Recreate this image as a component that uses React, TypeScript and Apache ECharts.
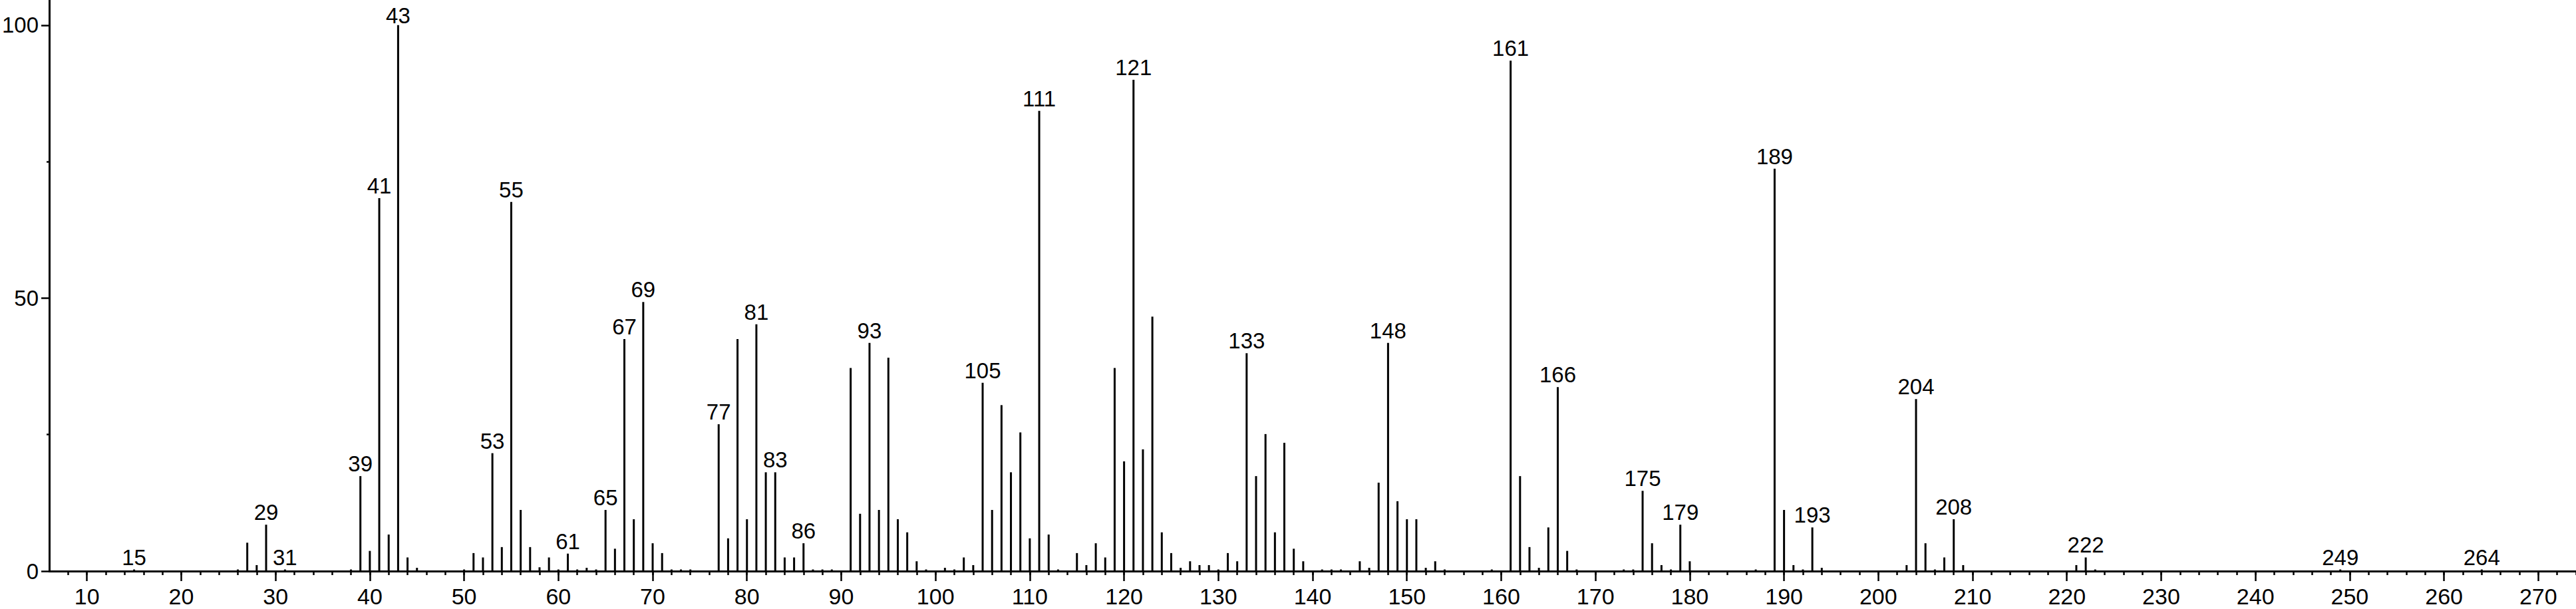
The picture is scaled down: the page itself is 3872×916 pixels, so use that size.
import React, { useEffect, useRef } from "react";
import * as echarts from "echarts";

// m/z values and relative intensities
const mzValues: number[] = [
  15, 26, 27, 28, 29, 31, 38, 39, 40, 41, 42, 43, 44, 45, 50,
  51, 52, 53, 54, 55, 56, 57, 58, 59, 60, 61, 62, 63, 64, 65, 66, 67, 68, 69, 70, 71,
  72, 73, 74, 77, 78, 79, 80, 81, 82, 83, 84, 85, 86, 87, 88, 89,
  91, 92, 93, 94, 95, 96, 97, 98, 99, 101, 102, 103, 104, 105, 106, 107, 108, 109, 110,
  111, 112, 113, 115, 116, 117, 118, 119, 120, 121, 122, 123, 124, 125, 126, 127, 128, 129, 130,
  131, 132, 133, 134, 135, 136, 137, 138, 139, 141, 142, 143, 145, 146, 147, 148, 149, 150,
  151, 152, 153, 154, 159, 161, 162, 163, 164, 165, 166, 167, 168, 173, 174, 175, 176, 177, 178,
  179, 180, 187, 189, 190, 191, 192, 193, 194, 203, 204, 205, 206, 207, 208, 209, 221, 222, 223,
  249, 264,
];
const intensities: number[] = [
  0.3, 0.3, 5.2, 1.1, 8.5, 0.3, 0.3, 17.4, 3.7, 68.3, 6.7, 100, 2.5, 0.6, 0.3,
  3.3, 2.5, 21.6, 4.4, 67.6, 11.2, 4.4, 0.7, 2.5, 0.3, 3.2, 0.3, 0.6, 0.3, 11.2, 4.1, 42.5, 9.5, 49.3, 5.1, 3.3,
  0.3, 0.3, 0.3, 26.9, 6.0, 42.5, 9.5, 45.2, 18.1, 18.1, 2.5, 2.5, 5.1, 0.3, 0.3, 0.3,
  37.2, 10.5, 41.8, 11.2, 39.1, 9.5, 7.1, 1.8, 0.3, 0.6, 0.3, 2.5, 1.1, 34.5, 11.2, 30.4, 18.1, 25.4, 6.0,
  84.3, 6.7, 0.3, 3.3, 1.1, 5.1, 2.5, 37.2, 20.1, 90.0, 22.3, 46.6, 7.1, 3.3, 0.6, 1.8, 1.1, 1.1, 0.3,
  3.3, 1.8, 39.9, 17.4, 25.1, 7.1, 23.5, 4.1, 1.8, 0.3, 0.3, 0.3, 1.8, 0.6, 16.2, 41.8, 12.8, 9.5,
  9.5, 0.6, 1.8, 0.3, 0.3, 93.5, 17.4, 4.4, 0.6, 8.0, 33.7, 3.7, 0.3, 0.3, 0.3, 14.7, 5.1, 1.1, 0.3,
  8.5, 1.8, 0.3, 73.7, 11.2, 1.1, 0.3, 8.0, 0.6, 1.1, 31.5, 5.1, 0.3, 2.5, 9.5, 1.1, 1.1, 2.5, 0.3,
  0.3, 0.3,
];
// peaks that carry an m/z annotation
const labelledPeaks: number[] = [
  15, 29, 31, 39, 41, 43, 53, 55, 61, 65, 67, 69, 77, 81, 83, 86, 93, 105, 111, 121,
  133, 148, 161, 166, 175, 179, 189, 193, 204, 208, 222, 249, 264,
];
const xTickLabels: number[] = [
  10, 20, 30, 40, 50, 60, 70, 80, 90, 100, 110, 120, 130, 140, 150, 160, 170, 180, 190,
  200, 210, 220, 230, 240, 250, 260, 270,
];
const xMinorTicks: number[] = Array.from({ length: 134 }, (_, i) => 8 + i * 2);
const yTickLabels: number[] = [0, 50, 100];
const yMinorTicks: number[] = [25, 75];

const FONT = "'Liberation Sans', Arial, Helvetica, sans-serif";

export default function App() {
  const ref = useRef<HTMLDivElement>(null);
  useEffect(() => {
    document.body.style.margin = "0";
    document.body.style.overflow = "hidden";
    if (!ref.current) return;
    const chart = echarts.init(ref.current, undefined, { renderer: "svg" });
    const topValue = Math.max(...intensities);
    const data = mzValues.map((mz, i) => {
      const item: any = { value: [mz, intensities[i]] };
      if (labelledPeaks.includes(mz)) {
        item.label = intensities[i] === topValue ? { show: true, distance: -2 } : { show: true };
      }
      return item;
    });
    chart.setOption({
      animation: false,
      backgroundColor: "#ffffff",
      grid: { left: 69, right: 0, top: 0, bottom: 57, containLabel: false },
      xAxis: [
        {
          type: "value",
          min: 6,
          max: 274,
          position: "bottom",
          axisLine: { show: true, lineStyle: { color: "#000", width: 3 } },
          axisTick: {
            show: true,
            customValues: xTickLabels,
            length: 15,
            lineStyle: { color: "#000", width: 2.5 },
          },
          axisLabel: {
            customValues: xTickLabels,
            color: "#000",
            fontFamily: FONT,
            fontSize: 34,
            margin: 21,
          },
          splitLine: { show: false },
        },
        {
          type: "value",
          min: 6,
          max: 274,
          position: "bottom",
          axisLine: { show: false },
          axisTick: {
            show: true,
            customValues: xMinorTicks,
            length: 6,
            lineStyle: { color: "#000", width: 2.5 },
          },
          axisLabel: { show: false },
          splitLine: { show: false },
        },
      ],
      yAxis: [
        {
          type: "value",
          min: 0,
          max: 104.6,
          axisLine: { show: true, lineStyle: { color: "#000", width: 3 } },
          axisTick: {
            show: true,
            customValues: yTickLabels,
            length: 12,
            lineStyle: { color: "#000", width: 2.5 },
          },
          axisLabel: {
            customValues: yTickLabels,
            color: "#000",
            fontFamily: FONT,
            fontSize: 33,
            margin: 16,
          },
          splitLine: { show: false },
        },
        {
          type: "value",
          min: 0,
          max: 104.6,
          position: "left",
          axisLine: { show: false },
          axisTick: {
            show: true,
            customValues: yMinorTicks,
            length: 4,
            lineStyle: { color: "#000", width: 2.5 },
          },
          axisLabel: { show: false },
          splitLine: { show: false },
        },
      ],
      series: [
        {
          type: "bar",
          xAxisIndex: 0,
          yAxisIndex: 0,
          barWidth: 3,
          itemStyle: { color: "#000" },
          label: {
            show: false,
            position: "top",
            distance: 2,
            color: "#000",
            fontFamily: FONT,
            fontSize: 33,
            formatter: (p: any) => String(p.value[0]),
          },
          data,
        },
      ],
    });
    return () => chart.dispose();
  }, []);
  return <div ref={ref} style={{ width: 3872, height: 916 }} />;
}
